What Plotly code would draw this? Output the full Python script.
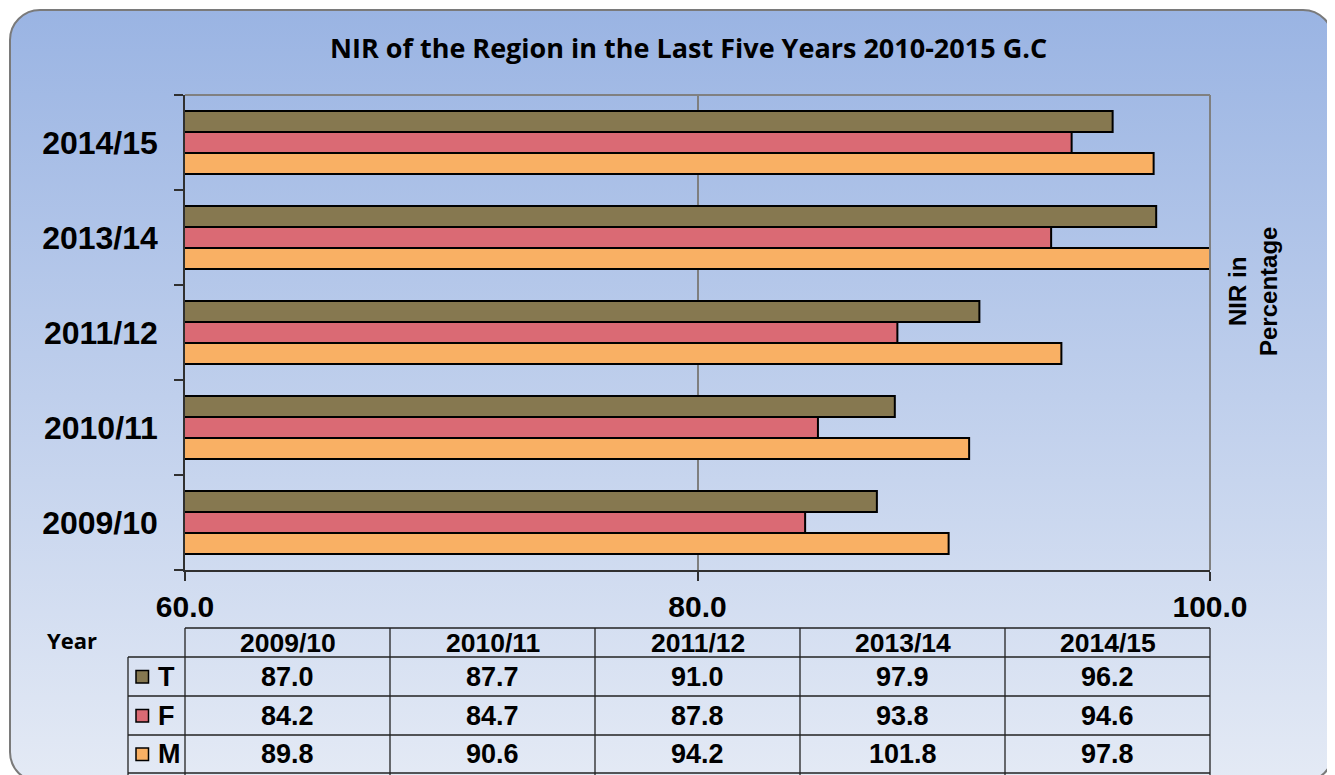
import base64
import plotly.graph_objects as go

# ---------------- data ----------------
years = ["2009/10", "2010/11", "2011/12", "2013/14", "2014/15"]
T_vals = [87.0, 87.7, 91.0, 97.9, 96.2]
F_vals = [84.2, 84.7, 87.8, 93.8, 94.6]
M_vals = [89.8, 90.6, 94.2, 101.8, 97.8]
series_names = ["T", "F", "M"]
x_ticks = [60, 80, 100]
title_text = "NIR of the Region in the Last Five Years 2010-2015 G.C"

colors = {"T": "#867850", "F": "#da6a74", "M": "#f9b064"}
values = {"T": T_vals, "F": F_vals, "M": M_vals}

# ---------------- geometry helpers (reference pixel coords) ----------------
W, H = 1335, 775
OFF = 8  # page body margin
L, R, TOP, BOT = 185, 1210, 95, 570
PW, PH = R - L, BOT - TOP


def px(x):
    return (x - L) / PW


def py(y):
    return (BOT - y) / PH


fig = go.Figure()
# add bottom-to-top so T ends on top within each group
for name in ["M", "F", "T"]:
    fig.add_trace(go.Bar(
        y=years, x=values[name], orientation="h", name=name,
        marker=dict(color=colors[name], line=dict(color="black", width=2)),
        showlegend=False, hoverinfo="x+y+name",
    ))

# ---------------- background card (svg gradient) ----------------
svg = f'''<svg xmlns="http://www.w3.org/2000/svg" width="{W}" height="{H}" viewBox="0 0 {W} {H}">
<defs><linearGradient id="g" x1="0" y1="0" x2="0" y2="1">
<stop offset="0" stop-color="#9ab4e3"/><stop offset="1" stop-color="#e4eaf5"/>
</linearGradient></defs>
<rect x="{10 - OFF}" y="{10 - OFF}" width="1323" height="772" rx="30" ry="30" fill="url(#g)" stroke="#7a7a7a" stroke-width="2"/>
</svg>'''
src = "data:image/svg+xml;base64," + base64.b64encode(svg.encode()).decode()

shapes = []
shapes.append(dict(type="line", xref="paper", yref="paper", x0=0, x1=1, y0=1, y1=1,
                   line=dict(color="#808080", width=2)))
shapes.append(dict(type="line", xref="paper", yref="paper", x0=1, x1=1, y0=0, y1=1,
                   line=dict(color="#808080", width=2)))

# ---------------- data table ----------------
line_c = dict(color="#222222", width=1.3)
row_y = [628, 657, 696, 735, 773]
shapes.append(dict(type="line", xref="paper", yref="paper", x0=0, x1=1,
                   y0=py(row_y[0]), y1=py(row_y[0]), line=line_c))
for yy in row_y[1:]:
    shapes.append(dict(type="line", xref="paper", yref="paper", x0=px(128), x1=1,
                       y0=py(yy), y1=py(yy), line=line_c))
shapes.append(dict(type="line", xref="paper", yref="paper", x0=px(128), x1=px(128),
                   y0=py(row_y[1]), y1=py(H + 5), line=line_c))
for i in range(len(years) + 1):
    xx = i / len(years)
    shapes.append(dict(type="line", xref="paper", yref="paper", x0=xx, x1=xx,
                       y0=py(row_y[0]), y1=py(H + 5), line=line_c))

annotations = []
tfont = dict(family="Liberation Sans, Arial", size=27, color="black", weight="bold")
hfont = dict(family="Liberation Sans, Arial", size=26.5, color="black", weight="bold")
for i, yr in enumerate(years):
    annotations.append(dict(xref="paper", yref="paper", x=(i + 0.5) / len(years),
                            y=py((row_y[0] + row_y[1]) / 2), text=yr, showarrow=False,
                            font=hfont, xanchor="center", yanchor="middle"))
for r, name in enumerate(series_names):
    yc = (row_y[r + 1] + row_y[r + 2]) / 2
    for i in range(len(years)):
        annotations.append(dict(xref="paper", yref="paper", x=(i + 0.5) / len(years),
                                y=py(yc), text=f"{values[name][i]:.1f}", showarrow=False,
                                font=tfont, xanchor="center", yanchor="middle"))
    annotations.append(dict(xref="paper", yref="paper", x=px(156), y=py(yc), text=name,
                            showarrow=False, font=tfont, xanchor="left", yanchor="middle"))
    shapes.append(dict(type="rect", xref="paper", yref="paper",
                       x0=px(136), x1=px(148.5), y0=py(yc - 6), y1=py(yc + 6.5),
                       fillcolor=colors[name], line=dict(color="black", width=1.5)))

annotations.append(dict(xref="paper", yref="paper", x=px(72), y=py(640), text="Year",
                        showarrow=False, xanchor="center", yanchor="middle",
                        font=dict(family="Open Sans", size=22, color="black", weight="bold")))
annotations.append(dict(xref="paper", yref="paper", x=px(688), y=py(48), text=title_text,
                        showarrow=False, xanchor="center", yanchor="middle",
                        font=dict(family="Open Sans", size=27, color="black", weight="bold")))
annotations.append(dict(xref="paper", yref="paper", x=px(1253), y=py(292),
                        text="NIR in<br>Percentage", textangle=-90, showarrow=False,
                        xanchor="center", yanchor="middle",
                        font=dict(family="Liberation Sans, Arial", size=24, color="black",
                                  weight="bold")))

fig.update_layout(
    width=W, height=H, autosize=False,
    margin=dict(l=L - OFF, r=W - R + OFF, t=TOP - OFF, b=H - BOT + OFF, pad=0),
    paper_bgcolor="white", plot_bgcolor="rgba(0,0,0,0)",
    barmode="group", bargap=0.337, bargroupgap=0,
    images=[dict(source=src, xref="paper", yref="paper", x=px(OFF), y=py(OFF),
                 sizex=W / PW, sizey=H / PH, xanchor="left", yanchor="top",
                 sizing="stretch", layer="below")],
    shapes=shapes, annotations=annotations,
    xaxis=dict(range=[60, 100], tickvals=x_ticks, tickformat=".1f",
               showgrid=True, gridcolor="#7f7f7f", gridwidth=1.5,
               zeroline=False, showline=True, linecolor="#303030", linewidth=1.5,
               ticks="outside", ticklen=9, tickcolor="#303030", tickwidth=1.5,
               ticklabelstandoff=0, automargin=False,
               tickfont=dict(family="Liberation Sans, Arial", size=30, color="black",
                             weight="bold")),
    yaxis=dict(type="category", categoryorder="array", categoryarray=years,
               showgrid=False, zeroline=False, showline=True, linecolor="#303030",
               linewidth=1.5, ticks="outside", ticklen=9, tickcolor="#303030",
               tickwidth=1.5, tickson="boundaries", ticklabelstandoff=19,
               automargin=False,
               tickfont=dict(family="Liberation Sans, Arial", size=32, color="black",
                             weight="bold")),
)

fig.write_html("out.html")
